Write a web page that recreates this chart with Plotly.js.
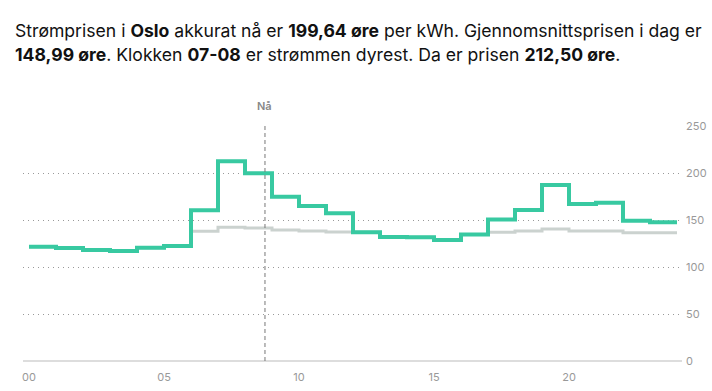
<!DOCTYPE html>
<html>
<head>
<meta charset="utf-8">
<script src="https://cdn.plot.ly/plotly-3.0.1.min.js"></script>
<style>html,body{margin:0;padding:0;background:#fff;}#chart{width:712px;height:391px;}</style>
</head>
<body>
<div id="chart"></div>
<script>
// Hours 00..23 (plus end point 24 for the last step)
const hours = [0,1,2,3,4,5,6,7,8,9,10,11,12,13,14,15,16,17,18,19,20,21,22,23,24];
// Price, øre/kWh, per hour (last value repeated to close the step at 24)
const price = [121.5,120.1,118.0,117.0,120.6,122.3,160.3,212.50,199.64,174.8,164.9,157.1,136.9,131.8,131.7,128.7,134.7,150.5,160.7,187.3,167.0,168.4,149.3,147.5,147.5];
// Reference (grey) line
const reference = [121.5,120.1,118.0,117.0,120.6,122.3,137.9,142.2,141.5,139.3,138.2,137.2,136.9,131.8,131.7,128.7,134.7,136.9,138.3,140.4,138.3,138.3,136.5,136.5,136.5];
const tickVals = [0,5,10,15,20];
const tickText = ["00","05","10","15","20"];
const yTicks = [0,50,100,150,200,250];
const nowHour = 8.74;
const nowLabel = "Nå";
const titleLine1 = "Strømprisen i <b>Oslo</b> akkurat nå er <b>199,64 øre</b> per kWh. Gjennomsnittsprisen i dag er";
const titleLine2 = "<b>148,99 øre</b>. Klokken <b>07-08</b> er strømmen dyrest. Da er prisen <b>212,50 øre</b>.";

const FONT = 'Inter, "Noto Sans", sans-serif';
const plotTop = 126, plotBottom = 360.7, plotLeft = 23, plotRight = 682;
const ph = plotBottom - plotTop, pw = plotRight - plotLeft;

const traces = [
  {x: hours, y: reference, type: 'scatter', mode: 'lines', line: {shape: 'hv', color: '#cbd2cf', width: 3}, hoverinfo: 'skip'},
  {x: hours, y: price, type: 'scatter', mode: 'lines', line: {shape: 'hv', color: '#38c9a1', width: 4}, hoverinfo: 'skip'}
];

const layout = {
  width: 712, height: 391,
  margin: {l: plotLeft, r: 712 - plotRight, t: plotTop, b: 391 - plotBottom},
  paper_bgcolor: '#fff', plot_bgcolor: '#fff',
  showlegend: false,
  font: {family: FONT, color: '#999'},
  xaxis: {
    range: [-0.222, 24.185],
    tickvals: tickVals, ticktext: tickText,
    showgrid: false, zeroline: false, showline: false,
    ticks: '', tickfont: {size: 11, color: '#999'}, ticklabelstandoff: 8,
    fixedrange: true
  },
  yaxis: {
    range: [0, 250], side: 'right',
    tickvals: yTicks,
    showgrid: true, gridcolor: '#999', griddash: '1px,4px', gridwidth: 1,
    zeroline: true, zerolinecolor: '#ddd', zerolinewidth: 1.5,
    showline: false, ticks: '', tickfont: {size: 11, color: '#999'}, ticklabelstandoff: 3,
    fixedrange: true
  },
  shapes: [
    {type: 'line', xref: 'x', yref: 'y', x0: nowHour, x1: nowHour, y0: 0, y1: 250,
     line: {color: '#777', width: 1, dash: '4px,3px'}, layer: 'above'}
  ],
  annotations: [
    {x: nowHour, y: 250, xref: 'x', yref: 'y', yshift: 20, text: nowLabel, showarrow: false,
     font: {size: 11, color: '#888', family: FONT, weight: 600}},
    {x: (13 - plotLeft) / pw, y: 1 + (plotTop - 31) / ph, xref: 'paper', yref: 'paper',
     xanchor: 'left', yanchor: 'middle', align: 'left', showarrow: false, text: titleLine1,
     font: {size: 17.6, color: '#111', family: FONT}},
    {x: (13 - plotLeft) / pw, y: 1 + (plotTop - 55) / ph, xref: 'paper', yref: 'paper',
     xanchor: 'left', yanchor: 'middle', align: 'left', showarrow: false, text: titleLine2,
     font: {size: 17.6, color: '#111', family: FONT}}
  ]
};

Plotly.newPlot('chart', traces, layout, {displayModeBar: false, staticPlot: true});
</script>
</body>
</html>
